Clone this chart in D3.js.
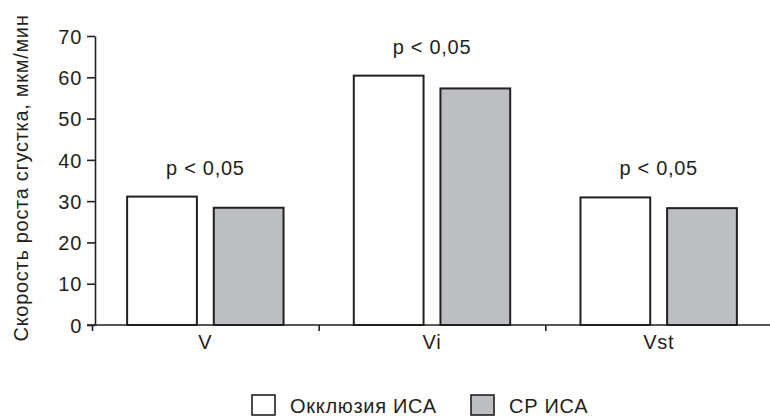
<!DOCTYPE html>
<html>
<head>
<meta charset="utf-8">
<script src="https://cdn.jsdelivr.net/npm/d3@7/dist/d3.min.js"></script>
<style>
  body { margin: 0; background: #fff; }
  svg text { font-family: "Liberation Sans", Arial, sans-serif; fill: #231f20; letter-spacing: 0.7px; }
</style>
</head>
<body>
<div id="chart"></div>
<script>
var categories = ['V', 'Vi', 'Vst'];
var seriesNames = ['Окклюзия ИСА', 'СР ИСА'];
var occlusion = [31.1, 60.4, 30.9];
var stenosis = [28.4, 57.3, 28.3];
var pLabels = ['p < 0,05', 'p < 0,05', 'p < 0,05'];
var yTicks = [0, 10, 20, 30, 40, 50, 60, 70];
var colors = ['#ffffff', '#bdbec2'];

var width = 770, height = 417;
var fontSize = 20;
var svg = d3.select('#chart').append('svg')
  .attr('width', width)
  .attr('height', height);

var y = d3.scaleLinear().domain([0, 70]).range([325, 36]);

var x0 = d3.scaleBand()
  .domain(categories)
  .range([92, 772])
  .paddingInner(0.31)
  .paddingOuter(0.155);

var x1 = d3.scaleBand()
  .domain(seriesNames)
  .range([0, x0.bandwidth()])
  .paddingInner(0.195);

// category boundaries for the x ticks
var xEdge = d3.scaleLinear().domain([0, categories.length]).range(x0.range());

var rows = categories.map(function(c, i) {
  return { cat: c, vals: [occlusion[i], stenosis[i]], p: pLabels[i] };
});

// y axis
var yAxis = d3.axisLeft(y)
  .tickValues(yTicks)
  .tickSizeInner(8)
  .tickSizeOuter(0);
var gy = svg.append('g')
  .attr('transform', 'translate(95,0)')
  .call(yAxis);
gy.selectAll('text').attr('font-size', fontSize).attr('x', -13).attr('dy', '0.36em');

// x axis line + edge ticks
var gx = svg.append('g')
  .attr('transform', 'translate(0,' + y(0) + ')')
  .call(d3.axisBottom(xEdge)
    .tickValues(d3.range(categories.length + 1))
    .tickFormat('')
    .tickSizeInner(6)
    .tickSizeOuter(0));
gx.select('.domain').attr('d', 'M87,0H770');

// category labels
svg.append('g')
  .attr('transform', 'translate(0,' + y(0) + ')')
  .call(d3.axisBottom(x0).tickSize(0))
  .call(function(g) { g.select('.domain').remove(); })
  .selectAll('text')
  .attr('font-size', fontSize)
  .attr('y', 10)
  .attr('dy', '0.71em');

svg.selectAll('.domain, .tick line').attr('stroke', '#231f20').attr('stroke-width', 1.6);

// bars
var groups = svg.selectAll('.grp')
  .data(rows)
  .enter()
  .append('g')
  .attr('class', 'grp')
  .attr('transform', function(d) { return 'translate(' + x0(d.cat) + ',0)'; });

groups.selectAll('rect')
  .data(function(d) { return d.vals.map(function(v, i) { return { s: seriesNames[i], v: v, i: i }; }); })
  .enter()
  .append('rect')
  .attr('x', function(d) { return x1(d.s); })
  .attr('y', function(d) { return y(d.v); })
  .attr('width', x1.bandwidth())
  .attr('height', function(d) { return y(0) - y(d.v); })
  .attr('fill', function(d) { return colors[d.i]; })
  .attr('stroke', '#231f20')
  .attr('stroke-width', 2);

// significance labels
groups.append('text')
  .attr('x', x0.bandwidth() / 2)
  .attr('y', function(d) { return y(d3.max(d.vals)) - 22; })
  .attr('text-anchor', 'middle')
  .attr('font-size', fontSize)
  .text(function(d) { return d.p; });

// y title
svg.append('text')
  .attr('transform', 'translate(28,178) rotate(-90)')
  .attr('text-anchor', 'middle')
  .attr('font-size', fontSize)
  .text('Скорость роста сгустка, мкм/мин');

// legend
var legendX = [252, 471];
var legend = svg.selectAll('.leg')
  .data(seriesNames)
  .enter()
  .append('g')
  .attr('class', 'leg')
  .attr('transform', function(d, i) { return 'translate(' + legendX[i] + ',395)'; });
legend.append('rect')
  .attr('width', 23)
  .attr('height', 20)
  .attr('fill', function(d, i) { return colors[i]; })
  .attr('stroke', '#231f20')
  .attr('stroke-width', 1.6);
legend.append('text')
  .attr('x', 38)
  .attr('y', 18)
  .attr('font-size', fontSize)
  .text(function(d) { return d; });
</script>
</body>
</html>
